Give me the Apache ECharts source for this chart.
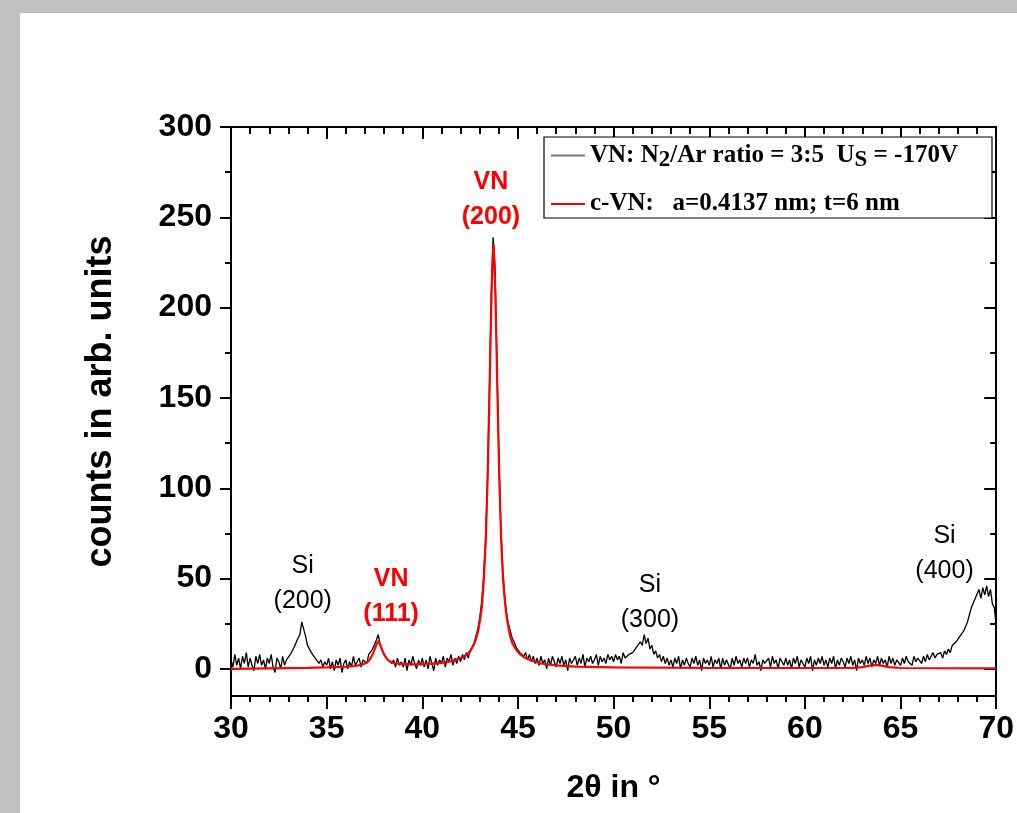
<!DOCTYPE html>
<html>
<head>
<meta charset="utf-8">
<script src="https://cdn.jsdelivr.net/npm/echarts@6/dist/echarts.min.js"></script>
<style>
html,body{margin:0;padding:0;background:#fff;}
#chart{width:1017px;height:813px;}
</style>
</head>
<body>
<div id="chart"></div>
<script>
// ---- data ----
// measured spectrum sampled every 0.1 deg from 30.0 to 70.0
const thetaStart = 30.0;
const thetaStep = 0.1;
const measuredCounts = [
  5, 1, 8, 2, 6, 0, 7, 3, 9, 1,          // 30.x
  6, 2, -1, 7, 3, 8, 2, 5, 0, 6,         // 31.x
  3, 8, 1, -2, 6, 4, 0, 7, 2, 5,         // 32.x
  4, 8, 7, 12, 11, 17, 19, 26, 22, 18,   // 33.x
  13, 12, 9, 10, 6, 7, 3, 5, 1, 4,       // 34.x
  2, 6, 0, 4, -1, 5, 2, 6, -2, 3,        // 35.x
  5, 0, 4, 1, 7, 2, 3, 6, 1, 5,          // 36.x
  6, 3, 8, 7, 11, 12, 16, 19, 13, 13,    // 37.x
  8, 9, 5, 6, 3, 5, 1, 6, 2, 4,          // 38.x
  1, 6, -1, 5, 2, 7, 3, 0, 5, 2,         // 39.x
  6, 1, 5, 0, 7, 3, -1, 6, 2, 5,         // 40.x
  3, 7, 1, 6, 4, 8, 2, 6, 3, 7,          // 41.x
  4, 8, 5, 9, 6, 10, 9, 14, 15, 22,      // 42.x
  28, 37, 50, 70, 100, 150, 205, 239, 222, 170, // 43.x
  118, 80, 56, 41, 31, 25, 21, 17, 15, 12,      // 44.x
  12, 9, 10, 7, 9, 5, 8, 4, 7, 3,        // 45.x
  6, 2, 7, 3, 5, 0, 6, 2, 7, 4,          // 46.x
  1, 6, 3, 7, 2, 5, -1, 6, 3, 4,         // 47.x
  7, 2, 6, 3, 8, 1, 6, 4, 7, 3,          // 48.x
  5, 8, 2, 7, 4, 6, 3, 8, 5, 7,          // 49.x
  4, 8, 5, 7, 3, 9, 6, 5, 8, 7,          // 50.x
  9, 8, 12, 11, 15, 13, 19, 14, 17, 11,  // 51.x
  13, 8, 10, 6, 8, 4, 7, 3, 6, 2,        // 52.x
  5, 1, 6, 3, 7, 0, 5, 2, 6, 3,          // 53.x
  1, 6, 3, 7, 2, 5, -1, 6, 3, 5,         // 54.x
  2, 7, 1, 5, 3, 6, 0, 6, 2, 5,          // 55.x
  4, 0, 6, 2, 7, 3, 5, 1, 6, 3,          // 56.x
  6, 1, 5, 3, 8, 2, 4, -1, 5, 3,         // 57.x
  2, 6, 1, 7, 3, 5, 0, 6, 4, 2,          // 58.x
  6, 2, 5, 0, 6, 3, 7, 1, 5, 3,          // 59.x
  1, 6, 3, 7, -1, 5, 2, 6, 3, 7,         // 60.x
  2, 5, 1, 6, 3, 7, 0, 5, 2, 6,          // 61.x
  4, 1, 6, 3, 7, 2, 5, -1, 6, 3,         // 62.x
  5, 2, 7, 3, 6, 1, 5, 3, 7, 2,          // 63.x
  6, 3, 5, 1, 7, 3, 6, 2, 5, 4,          // 64.x
  2, 6, 3, 7, 4, 5, 2, 7, 4, 6,          // 65.x
  5, 3, 7, 4, 8, 5, 6, 9, 6, 8,          // 66.x
  7, 9, 6, 10, 8, 11, 9, 13, 12, 15,     // 67.x
  14, 18, 17, 21, 20, 26, 27, 34, 34, 39,// 68.x
  40, 44, 39, 45, 41, 46, 40, 44, 36, 34,// 69.x
  24                                     // 70.0
];

// fitted c-VN curve (2theta, counts)
const fitTheta = [30, 32, 34, 35, 36, 36.5, 36.8, 37.0, 37.2, 37.3, 37.4, 37.5, 37.6, 37.7, 37.8, 37.9, 38.0, 38.1, 38.2, 38.4, 38.6, 39.0, 39.5, 40.0, 40.5, 41.0, 41.5, 41.72, 42.0, 42.12, 42.32, 42.52, 42.72, 42.82, 42.92, 43.02, 43.12, 43.22, 43.32, 43.42, 43.52, 43.62, 43.67, 43.72, 43.77, 43.82, 43.92, 44.02, 44.12, 44.22, 44.32, 44.42, 44.52, 44.62, 44.72, 44.92, 45.12, 45.32, 45.72, 46.2, 47, 48, 50, 55, 60, 62.5, 63.0, 63.4, 63.7, 64.0, 64.4, 65, 70];
const fitCounts = [0, 0.3, 0.6, 0.8, 1.2, 1.6, 2.2, 3, 4.5, 6, 8, 10.5, 13.5, 15.5, 13.5, 10.5, 8, 6.3, 5, 3.6, 3, 2.6, 2.5, 2.6, 2.9, 3.3, 4.2, 5, 6, 6.5, 8, 10, 14, 17, 21, 27, 35, 50, 72, 108, 157, 208, 225, 235, 225, 208, 157, 108, 72, 50, 37, 28, 22, 17, 14, 10.5, 8, 6.5, 4.5, 3, 2, 1.3, 0.8, 0.5, 0.5, 0.6, 1.0, 1.8, 2.2, 1.8, 1.0, 0.5, 0.3];

// tick values
const yMajorTicks = [0, 50, 100, 150, 200, 250, 300];
const yMinorTicks = [25, 75, 125, 175, 225, 275];

// peak annotations: [label, 2theta, counts]
const siPeaks = [['Si\n(200)', 33.75, 47.3], ['Si\n(300)', 51.9, 36.8], ['Si\n(400)', 67.3, 64]];
const vnPeaks = [['VN\n(111)', 38.37, 39.9], ['VN\n(200)', 43.59, 259.7]];

const seriesNames = ['VN: N2/Ar ratio = 3:5  US = -170V', 'c-VN:   a=0.4137 nm; t=6 nm'];

// ---- build ----
const measuredData = measuredCounts.map((v, i) => [+(thetaStart + i * thetaStep).toFixed(2), v]);
const fitData = fitTheta.map((t, i) => [t, fitCounts[i]]);

const SANS = '"Liberation Sans", Arial, sans-serif';
const SERIF = '"Liberation Serif", "Times New Roman", serif';
const axisLineStyle = {color: '#000', width: 2};

function mp(list, color, weight) {
  return {
    symbol: 'circle', symbolSize: 1,
    itemStyle: {color: 'transparent'},
    label: {show: true, position: 'inside', color: color, fontFamily: SANS, fontSize: 25, fontWeight: weight, lineHeight: 35},
    data: list.map(p => ({coord: [p[1], p[2]], value: p[0], label: {formatter: p[0]}}))
  };
}

const chart = echarts.init(document.getElementById('chart'), null, {renderer: 'canvas'});
const yCommon = {type: 'value', min: -15, max: 300, splitLine: {show: false}};
chart.setOption({
  animation: false,
  backgroundColor: '#ffffff',
  graphic: [
    {type: 'rect', left: 0, top: 0, shape: {width: 1017, height: 13}, style: {fill: '#c0c0c0'}, z: -10},
    {type: 'rect', left: 0, top: 0, shape: {width: 20, height: 813}, style: {fill: '#c0c0c0'}, z: -10}
  ],
  grid: {left: 231, top: 127, width: 768, height: 569, containLabel: false},
  legend: {
    orient: 'vertical', left: 544, top: 137,
    padding: [2, 32, 0, 7], itemGap: 18,
    itemWidth: 34, itemHeight: 2, icon: 'rect',
    backgroundColor: '#fff', borderColor: '#000', borderWidth: 1.2,
    data: [{name: seriesNames[0], itemStyle: {color: '#777'}}, {name: seriesNames[1]}],
    formatter: function (name) {
      if (name === seriesNames[0]) {
        return '{t|VN: N}{s|2}{t|/Ar ratio = 3:5  U}{s|S}{t| = -170V}';
      }
      return '{t|c-VN:   a=0.4137 nm; t=6 nm}';
    },
    textStyle: {
      width: 370,
      color: '#000',
      fontFamily: SERIF, fontWeight: 'bold', fontSize: 25, lineHeight: 28,
      rich: {
        t: {fontFamily: SERIF, fontWeight: 'bold', fontSize: 25, lineHeight: 28, color: '#000'},
        s: {fontFamily: SERIF, fontWeight: 'bold', fontSize: 23, lineHeight: 18, padding: [10, 0, 0, 0], color: '#000'}
      }
    }
  },
  xAxis: [
    {
      type: 'value', min: 30, max: 70, interval: 5, position: 'bottom',
      axisLine: {show: true, onZero: false, lineStyle: axisLineStyle},
      axisTick: {show: true, length: 13, lineStyle: axisLineStyle},
      minorTick: {show: true, splitNumber: 5, length: 6, lineStyle: axisLineStyle},
      splitLine: {show: false},
      axisLabel: {color: '#000', fontFamily: SANS, fontSize: 32, fontWeight: 'bold', margin: 17},
      name: '2θ in °', nameLocation: 'middle', nameGap: 76,
      nameTextStyle: {color: '#000', fontFamily: SANS, fontSize: 32, fontWeight: 'bold'}
    },
    {
      type: 'value', min: 30, max: 70, interval: 5, position: 'top',
      axisLine: {show: true, onZero: false, lineStyle: axisLineStyle},
      axisTick: {show: true, inside: true, length: 12, lineStyle: axisLineStyle},
      minorTick: {show: true, splitNumber: 5, length: 7, lineStyle: axisLineStyle},
      splitLine: {show: false},
      axisLabel: {show: false}
    }
  ],
  yAxis: [
    Object.assign({}, yCommon, {
      position: 'left',
      axisLine: {show: true, onZero: false, lineStyle: axisLineStyle},
      axisTick: {show: true, length: 11, lineStyle: axisLineStyle, customValues: yMajorTicks},
      axisLabel: {color: '#000', fontFamily: SANS, fontSize: 32, fontWeight: 'bold', margin: 19, customValues: yMajorTicks},
      name: 'counts in arb. units', nameLocation: 'middle', nameGap: 112, nameRotate: 90,
      nameTextStyle: {color: '#000', fontFamily: SANS, fontSize: 36, fontWeight: 'bold', padding: [0, 0, 0, 20]}
    }),
    Object.assign({}, yCommon, {
      position: 'left',
      axisLine: {show: false, onZero: false},
      axisTick: {show: true, length: 6, lineStyle: axisLineStyle, customValues: yMinorTicks},
      axisLabel: {show: false}
    }),
    Object.assign({}, yCommon, {
      position: 'right',
      axisLine: {show: true, onZero: false, lineStyle: axisLineStyle},
      axisTick: {show: true, inside: true, length: 12, lineStyle: axisLineStyle, customValues: yMajorTicks},
      axisLabel: {show: false}
    }),
    Object.assign({}, yCommon, {
      position: 'right',
      axisLine: {show: false, onZero: false},
      axisTick: {show: true, inside: true, length: 6, lineStyle: axisLineStyle, customValues: yMinorTicks},
      axisLabel: {show: false}
    })
  ],
  series: [
    {
      name: seriesNames[0], type: 'line', xAxisIndex: 0, yAxisIndex: 0,
      data: measuredData, showSymbol: false, symbol: 'none',
      lineStyle: {color: '#000', width: 1.3}, itemStyle: {color: '#000'},
      markPoint: mp(siPeaks, '#000', 'normal'),
      z: 2
    },
    {
      name: seriesNames[1], type: 'line', xAxisIndex: 0, yAxisIndex: 0,
      data: fitData, showSymbol: false, symbol: 'none', smooth: false,
      lineStyle: {color: '#ff0000', width: 2.2}, itemStyle: {color: '#ff0000'},
      markPoint: mp(vnPeaks, '#ff0000', 'bold'),
      z: 3
    }
  ]
});
</script>
</body>
</html>
